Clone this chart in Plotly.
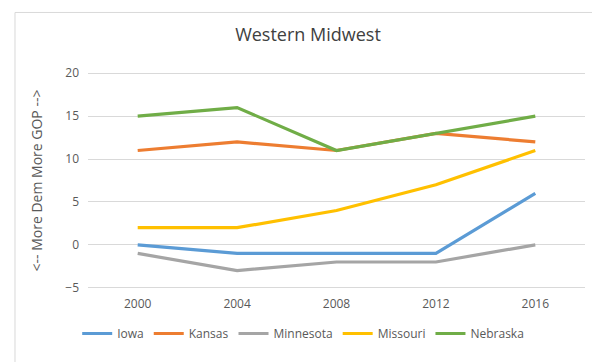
import plotly.graph_objects as go

years = ["2000", "2004", "2008", "2012", "2016"]
iowa = [0, -1, -1, -1, 6]
kansas = [11, 12, 11, 13, 12]
minnesota = [-1, -3, -2, -2, 0]
missouri = [2, 2, 4, 7, 11]
nebraska = [15, 16, 11, 13, 15]
y_ticks = [-5, 0, 5, 10, 15, 20]

series = [
    ("Iowa", iowa, "#5B9BD5"),
    ("Kansas", kansas, "#ED7D31"),
    ("Minnesota", minnesota, "#A5A5A5"),
    ("Missouri", missouri, "#FFC000"),
    ("Nebraska", nebraska, "#70AD47"),
]

fig = go.Figure()
for name, vals, col in series:
    fig.add_trace(go.Scatter(x=years, y=vals, name=name, mode="lines",
                             line=dict(color=col, width=3.2)))

font_fam = "Open Sans, Noto Sans, sans-serif"
grid_col = "#D9D9D9"
fig.update_layout(
    width=600, height=362,
    margin=dict(l=80, r=23, t=64, b=81),
    paper_bgcolor="white", plot_bgcolor="white",
    font=dict(family=font_fam, color="#595959", size=12),
    title=dict(text="Western Midwest", x=0.5, xanchor="center", y=0.925, yanchor="middle",
               font=dict(size=18, color="#404040", family=font_fam)),
    showlegend=True,
    legend=dict(orientation="h", x=0.433, xanchor="center", y=-0.205, yanchor="middle",
                font=dict(size=12, color="#595959"), itemwidth=30, tracegroupgap=0),
    xaxis=dict(type="category", range=[-0.5, 4.5], showgrid=False, showline=False,
               zeroline=False, ticks="", ticklabelstandoff=6,
               tickfont=dict(size=12, color="#595959")),
    yaxis=dict(range=[-5.15, 20.15], tickvals=y_ticks, showgrid=True, gridcolor=grid_col,
               gridwidth=1, zeroline=True, zerolinecolor=grid_col, zerolinewidth=1,
               showline=False, ticks="",
               ticklabelstandoff=8, tickfont=dict(size=12, color="#595959"),
               title=dict(text="<-- More Dem More GOP -->", standoff=19,
                          font=dict(size=14, color="#595959"))),
)
fig.add_shape(type="rect", xref="paper", yref="paper",
              x0=-0.1469, x1=1.0382, y0=-0.3395, y1=1.2744,
              line=dict(color="#D9D9D9", width=1), fillcolor="rgba(0,0,0,0)", layer="above")
fig.write_html("out.html")
